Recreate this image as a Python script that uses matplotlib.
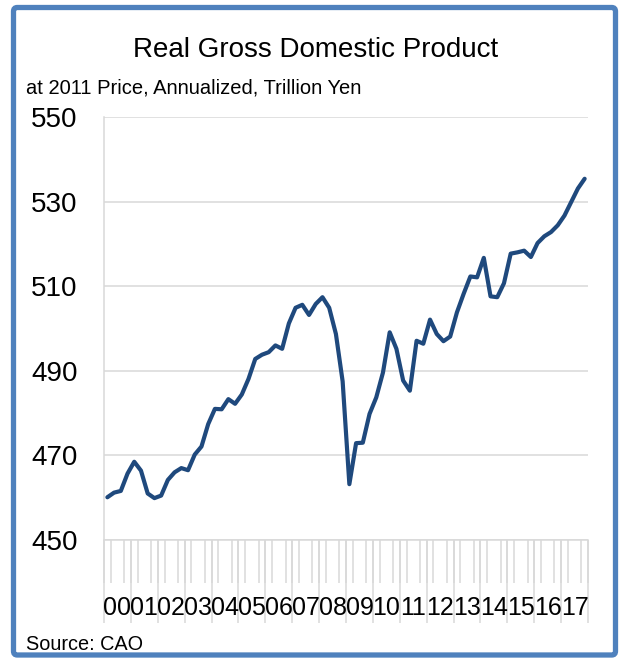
import matplotlib
matplotlib.use("Agg")
import matplotlib.pyplot as plt
from matplotlib.patches import FancyBboxPatch
import numpy as np

plt.rcParams['font.family'] = ['Liberation Sans', 'DejaVu Sans']

title = "Real Gross Domestic Product"
subtitle = "at 2011 Price, Annualized, Trillion Yen"
source = "Source: CAO"

year_labels = ["00", "01", "02", "03", "04", "05", "06", "07", "08",
               "09", "10", "11", "12", "13", "14", "15", "16", "17"]

# Quarterly real GDP, 2000Q1 - 2017Q4 (trillion yen)
gdp = [460.1, 461.2, 461.6, 465.7,
       468.5, 466.4, 461.0, 459.9,
       460.5, 464.2, 466.0, 467.0,
       466.5, 470.2, 472.1, 477.4,
       481.0, 480.9, 483.3, 482.2,
       484.4, 488.1, 492.8, 493.8,
       494.4, 496.0, 495.2, 501.2,
       504.9, 505.6, 503.2, 505.8,
       507.4, 504.9, 498.7, 487.5,
       463.2, 472.9, 473.0, 479.8,
       483.7, 489.6, 499.1, 495.2,
       487.7, 485.3, 497.1, 496.4,
       502.1, 498.7, 497.0, 498.1,
       503.8, 508.2, 512.3, 512.1,
       516.7, 507.6, 507.4, 510.7,
       517.7, 518.0, 518.4, 516.9,
       520.2, 521.8, 522.8, 524.4,
       526.7, 529.9, 533.1, 535.4]

yticks = [450, 470, 490, 510, 530, 550]

W, H = 621, 658
fig = plt.figure(figsize=(W / 100, H / 100), dpi=100)
fig.patch.set_facecolor("white")

ax = fig.add_axes([104 / W, 1 - 540 / H, (588 - 104) / W, (540 - 117) / H])

n = len(gdp)
x = np.arange(n)
ax.plot(x, gdp, color="#1F497D", lw=3.0, solid_joinstyle="round",
        solid_capstyle="round", zorder=3)

ax.set_xlim(-0.5, n - 0.5)
ax.set_ylim(450, 550)

grid_c = "#D9D9D9"
ax.set_yticks(yticks)
ax.set_yticklabels([str(v) for v in yticks], fontsize=20)
ax.tick_params(axis="y", length=0, pad=19)
ax.yaxis.grid(True, color=grid_c, lw=1.1)
ax.set_axisbelow(True)

for s in ["top", "right"]:
    ax.spines[s].set_visible(False)
for s in ["left", "bottom"]:
    ax.spines[s].set_color(grid_c)
    ax.spines[s].set_linewidth(1.1)

# year labels at year centres
n_years = len(year_labels)
centers = [4 * i + 1.5 for i in range(n_years)]
ax.set_xticks(centers)
ax.set_xticklabels(year_labels, fontsize=18)
ax.tick_params(axis="x", which="major", length=0, pad=40)

# quarter separators
ax.set_xticks(np.arange(-0.5, n, 1.0), minor=True)
ax.tick_params(axis="x", which="minor", direction="out", length=31,
               width=1.1, color=grid_c)

# year separators
sec = ax.secondary_xaxis("bottom")
sec.set_xticks([4 * i - 0.5 for i in range(n_years + 1)])
sec.set_xticklabels([])
sec.tick_params(axis="x", length=60, width=1.1, color=grid_c)
sec.spines["bottom"].set_visible(False)

fig.text(316 / W, 1 - 57 / H, title, fontsize=20, ha="center", va="baseline")
fig.text(26 / W, 1 - 94 / H, subtitle, fontsize=14.5, ha="left", va="baseline")
fig.text(26 / W, 1 - 650 / H, source, fontsize=14.3, ha="left", va="baseline")

border = FancyBboxPatch((13.5 / W, 1 - 655 / H), (615.5 - 13.5) / W, (655 - 7.5) / H,
                        boxstyle="round,pad=0,rounding_size=0.006",
                        transform=fig.transFigure, facecolor="none",
                        edgecolor="#4F81BD", lw=3.8, zorder=10)
fig.patches.append(border)

fig.savefig("out.png", dpi=100, facecolor="white")
